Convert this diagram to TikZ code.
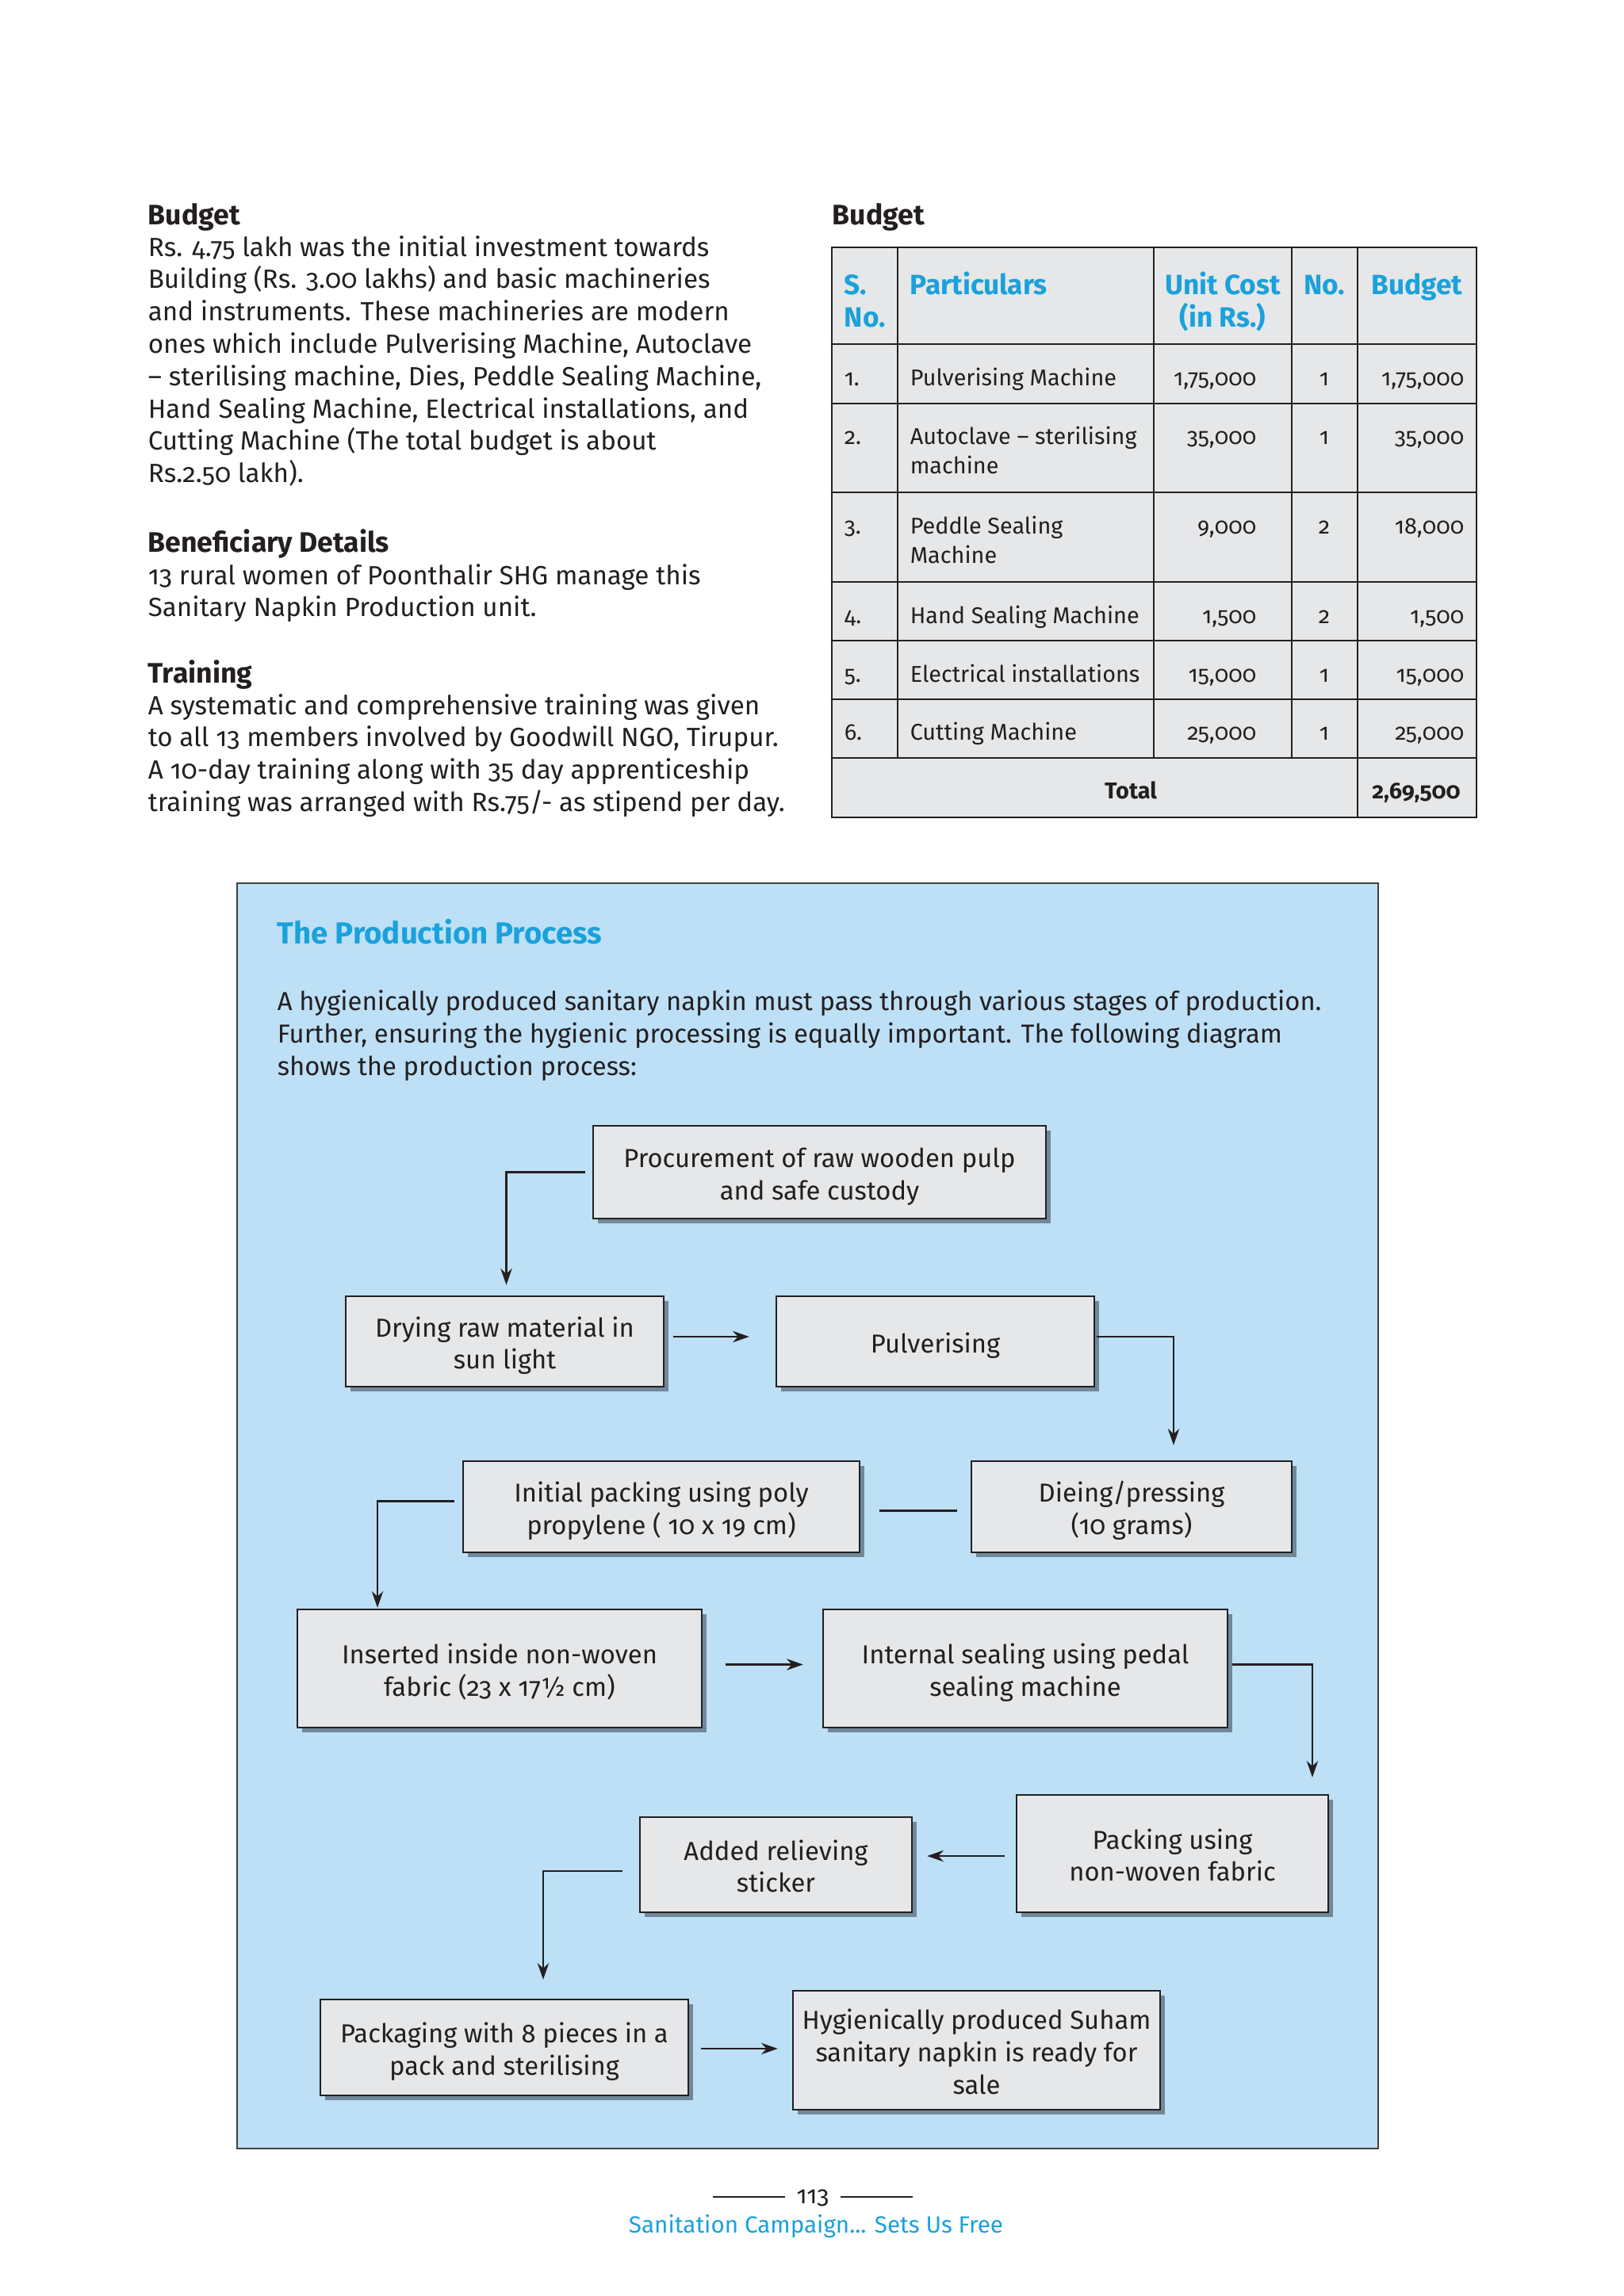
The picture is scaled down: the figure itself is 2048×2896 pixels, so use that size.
\documentclass[tikz,border=0pt]{standalone}
\usepackage{fontspec}
\setmainfont{Fira Sans}[Numbers=OldStyle]
\usetikzlibrary{shadows,calc,arrows.meta}
\definecolor{cyanh}{HTML}{1BA1DB}
\definecolor{bluebg}{HTML}{BDE0F6}
\definecolor{cellgray}{HTML}{E6E7E8}
\definecolor{ink}{HTML}{231F20}
\definecolor{shade}{HTML}{3E4E5E}
\newcommand\bodyf{\fontsize{8.3pt}{10.2pt}\selectfont}
\newcommand\panelf{\fontsize{8.2pt}{10.2pt}\selectfont}
\newcommand\headf{\fontsize{8.9pt}{11pt}\selectfont\bfseries}
\newcommand\tabf{\fontsize{7.2pt}{9.25pt}\selectfont}
\newcommand\thf{\fontsize{8.8pt}{10.25pt}\selectfont\bfseries}
\newcommand\flowf{\fontsize{8.2pt}{10.2pt}\selectfont}
\newcommand\ft[1]{\raisebox{-1.6pt}[\height][\depth]{\begin{tabular}{@{}c@{}}#1\end{tabular}}}
\begin{document}
\begin{tikzpicture}[x=0.25pt,y=-0.25pt,
  txt/.style={inner sep=0pt, text=ink, anchor=base west, align=left},
  txtr/.style={inner sep=0pt, text=ink, anchor=base east, align=right},
  txtc/.style={inner sep=0pt, text=ink, anchor=base, align=center},
  tline/.style={draw=ink, line width=0.6pt},
  flowbox/.style={draw=ink, line width=0.6pt, fill=cellgray, font=\flowf, text=ink, inner sep=2pt,
    drop shadow={shadow xshift=1.4pt, shadow yshift=-1.6pt, fill=shade, opacity=0.6}},
  arr/.style={draw=ink, line width=0.6pt, -{Stealth[length=5.2pt,width=3.6pt]}},
  link/.style={draw=ink, line width=0.6pt}]
\useasboundingbox (0,0) rectangle (2048,2896);
\fill[white] (0,0) rectangle (2048,2896);

% ---------- left column (base anchor = last line baseline) ----------
\node[txt, font=\headf] (h1) at (186,283) {Budget};
\node[txt, font=\bodyf] (p1) at (186,608.6) {Rs. 4.75 lakh was the initial investment towards\\
Building (Rs. 3.00 lakhs) and basic machineries\\
and instruments. These machineries are modern\\
ones which include Pulverising Machine, Autoclave\\
– sterilising machine, Dies, Peddle Sealing Machine,\\
Hand Sealing Machine, Electrical installations, and\\
Cutting Machine (The total budget is about\\
Rs.2.50 lakh).};
\node[txt, font=\headf] (h2) at (186,696) {Beneficiary Details};
\node[txt, font=\bodyf] (p2) at (186,777.8) {13 rural women of Poonthalir SHG manage this\\
Sanitary Napkin Production unit.};
\node[txt, font=\headf] (h3) at (186,861) {Training};
\node[txt, font=\bodyf] (p3) at (186,1023.4) {A systematic and comprehensive training was given\\
to all 13 members involved by Goodwill NGO, Tirupur.\\
A 10-day training along with 35 day apprenticeship\\
training was arranged with Rs.75/- as stipend per day.};

% ---------- budget table ----------
\node[txt, font=\headf] (h4) at (1049,283) {Budget};
\fill[cellgray] (1049,312) rectangle (1862,1031);
\foreach \yy in {434,509,621,734,808,882,956}
  \draw[tline] (1049,\yy) -- (1862,\yy);
\foreach \xx in {1132,1455,1629}
  \draw[tline] (\xx,312) -- (\xx,956);
\draw[tline] (1712,312) -- (1712,1031);
\draw[tline] (1049,312) rectangle (1862,1031);

\node[txt, font=\thf, text=cyanh] (th1) at (1064,412) {S.\\No.};
\node[txt, font=\thf, text=cyanh] (th2) at (1147,371) {Particulars};
\node[txtc, font=\thf, text=cyanh] (th3) at (1542,412) {Unit Cost\\(in Rs.)};
\node[txtc, font=\thf, text=cyanh] (th4) at (1670,371) {No.};
\node[txtc, font=\thf, text=cyanh] (th5) at (1787,371) {Budget};

\node[txt, font=\tabf] (r1a) at (1064,486) {1.};
\node[txt, font=\tabf] (r1b) at (1147,486) {Pulverising Machine};
\node[txtr, font=\tabf] (r1c) at (1585,486) {1,75,000};
\node[txtc, font=\tabf] (r1d) at (1670,486) {1};
\node[txtr, font=\tabf] (r1e) at (1847,486) {1,75,000};

\node[txt, font=\tabf] (r2a) at (1064,560) {2.};
\node[txt, font=\tabf] (r2b) at (1147,597) {Autoclave – sterilising\\machine};
\node[txtr, font=\tabf] (r2c) at (1585,560) {35,000};
\node[txtc, font=\tabf] (r2d) at (1670,560) {1};
\node[txtr, font=\tabf] (r2e) at (1847,560) {35,000};

\node[txt, font=\tabf] (r3a) at (1064,673) {3.};
\node[txt, font=\tabf] (r3b) at (1147,710) {Peddle Sealing\\Machine};
\node[txtr, font=\tabf] (r3c) at (1585,673) {9,000};
\node[txtc, font=\tabf] (r3d) at (1670,673) {2};
\node[txtr, font=\tabf] (r3e) at (1847,673) {18,000};

\node[txt, font=\tabf] (r4a) at (1064,786) {4.};
\node[txt, font=\tabf] (r4b) at (1147,786) {Hand Sealing Machine};
\node[txtr, font=\tabf] (r4c) at (1585,786) {1,500};
\node[txtc, font=\tabf] (r4d) at (1670,786) {2};
\node[txtr, font=\tabf] (r4e) at (1847,786) {1,500};

\node[txt, font=\tabf] (r5a) at (1064,860) {5.};
\node[txt, font=\tabf] (r5b) at (1147,860) {Electrical installations};
\node[txtr, font=\tabf] (r5c) at (1585,860) {15,000};
\node[txtc, font=\tabf] (r5d) at (1670,860) {1};
\node[txtr, font=\tabf] (r5e) at (1847,860) {15,000};

\node[txt, font=\tabf] (r6a) at (1064,933) {6.};
\node[txt, font=\tabf] (r6b) at (1147,933) {Cutting Machine};
\node[txtr, font=\tabf] (r6c) at (1585,933) {25,000};
\node[txtc, font=\tabf] (r6d) at (1670,933) {1};
\node[txtr, font=\tabf] (r6e) at (1847,933) {25,000};

\node[txtc, font=\tabf\bfseries] (tot) at (1426,1007) {Total};
\node[txtc, font=\tabf\bfseries] (totv) at (1786,1007) {2,69,500};

% ---------- production process panel ----------
\draw[fill=bluebg, draw=ink!85, line width=0.5pt] (299,1114) rectangle (1738,2710);
\node[txt, font=\fontsize{9.6pt}{11pt}\selectfont\bfseries, text=cyanh] (pt) at (349,1190) {The Production Process};
\node[txt, font=\panelf] (pp) at (349,1356) {A hygienically produced sanitary napkin must pass through various stages of production.\\
Further, ensuring the hygienic processing is equally important. The following diagram\\
shows the production process:};

\node[flowbox, minimum width=142.75pt, minimum height=29.25pt] (proc) at (1033.5,1478.5) {\ft{Procurement of raw wooden pulp\\and safe custody}};
\node[flowbox, minimum width=100.25pt, minimum height=28.5pt] (dry) at (636.5,1692) {\ft{Drying raw material in\\sun light}};
\node[flowbox, minimum width=100.25pt, minimum height=28.5pt] (pulv) at (1179.5,1692) {\ft{Pulverising}};
\node[flowbox, minimum width=125pt, minimum height=28.75pt] (init) at (834,1900.5) {\ft{Initial packing using poly\\propylene ( 10 x 19 cm)}};
\node[flowbox, minimum width=101pt, minimum height=28.75pt] (die) at (1427,1900.5) {\ft{Dieing/pressing\\(10 grams)}};
\node[flowbox, minimum width=127.5pt, minimum height=37.25pt] (ins) at (630,2104.5) {\ft{Inserted inside non-woven\\fabric (23 x 17½ cm)}};
\node[flowbox, minimum width=127.5pt, minimum height=37.25pt] (seal) at (1293,2104.5) {\ft{Internal sealing using pedal\\sealing machine}};
\node[flowbox, minimum width=98.25pt, minimum height=37pt] (pack) at (1478.5,2338) {\ft{Packing using\\non-woven fabric}};
\node[flowbox, minimum width=85.75pt, minimum height=30pt] (stick) at (978.5,2352) {\ft{Added relieving\\sticker}};
\node[flowbox, minimum width=116pt, minimum height=30.25pt] (pkg) at (636,2582.5) {\ft{Packaging with 8 pieces in a\\pack and sterilising}};
\node[flowbox, minimum width=115.75pt, minimum height=37.5pt] (hyg) at (1231.5,2586) {\ft{Hygienically produced Suham\\sanitary napkin is ready for\\sale}};

\draw[arr] ($(proc.west)+(-9,0)$) -| ($(dry.north)+(2,-13)$);
\draw[arr] ($(dry.east)+(11,-6)$) -- ($(pulv.west)+(-33,-6)$);
\draw[arr] ($(pulv.east)+(2,-6)$) -| ($(die.north)+(53,-19)$);
\draw[link] ($(init.east)+(24,5)$) -- ($(die.west)+(-17,5)$);
\draw[arr] ($(init.west)+(-10,-7)$) -| ($(ins.north)+(-154,-1)$);
\draw[arr] ($(ins.east)+(29,-5)$) -- ($(seal.west)+(-24,-5)$);
\draw[arr] ($(seal.east)+(5,-5)$) -| ($(pack.north)+(176.5,-21)$);
\draw[arr] ($(pack.west)+(-14,3)$) -- ($(stick.east)+(18,-11)$);
\draw[arr] ($(stick.west)+(-21,8)$) -| ($(pkg.north)+(49,-24)$);
\draw[arr] ($(pkg.east)+(15,1.5)$) -- ($(hyg.west)+(-18,-2)$);

% ---------- footer ----------
\node[txtc, font=\fontsize{7.7pt}{9pt}\selectfont] (pn) at (1025,2779) {113};
\draw[link, line width=0.5pt] ($(pn.base west)+(-14,-8)$) -- ++(-91,0);
\draw[link, line width=0.5pt] ($(pn.base east)+(14,-8)$) -- ++(91,0);
\node[txtc, font=\fontsize{7.4pt}{9pt}\selectfont, text=cyanh] (foot) at (1029,2816) {Sanitation Campaign... Sets Us Free};
\end{tikzpicture}
\end{document}
